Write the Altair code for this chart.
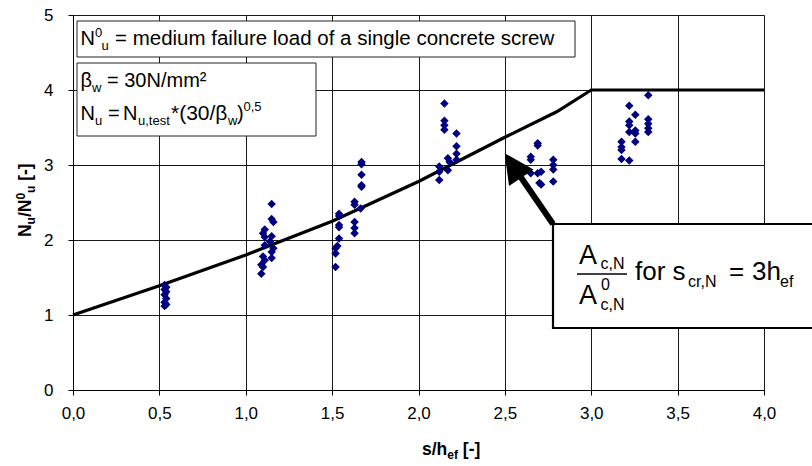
import altair as alt
import pandas as pd

# ---------------- data ----------------
line_x = [0.0, 0.5, 1.0, 1.5, 2.0, 2.5, 2.8, 3.0, 4.0]
line_y = [1.0, 1.39, 1.80, 2.25, 2.78, 3.37, 3.71, 4.0, 4.0]

test_x = [
    0.53, 0.54, 0.53, 0.54, 0.53, 0.54, 0.53, 0.54, 0.53,
    1.09, 1.10, 1.09, 1.11, 1.10, 1.11, 1.11, 1.10, 1.11,
    1.15, 1.15, 1.16, 1.14, 1.15, 1.16, 1.15, 1.15,
    1.52, 1.52, 1.52, 1.53, 1.54, 1.54, 1.54, 1.54, 1.54,
    1.63, 1.63, 1.63, 1.63, 1.63, 1.665, 1.67, 1.67, 1.67, 1.67, 1.67,
    2.15, 2.15, 2.15, 2.15, 2.17, 2.17, 2.12, 2.12, 2.12, 2.18, 2.22, 2.22, 2.22, 2.22,
    2.69, 2.69, 2.65, 2.65, 2.65, 2.69, 2.71, 2.70, 2.71, 2.78, 2.78, 2.78, 2.78,
    3.33, 3.22, 3.255, 3.22, 3.22, 3.22, 3.255, 3.255, 3.255, 3.33, 3.33, 3.33, 3.33,
    3.175, 3.175, 3.175, 3.175, 3.22,
]
test_y = [
    1.40, 1.37, 1.34, 1.31, 1.27, 1.22, 1.17, 1.14, 1.12,
    1.55, 1.64, 1.67, 1.73, 1.78, 1.93, 2.04, 2.09, 2.14,
    1.76, 1.84, 1.89, 1.98, 2.05, 2.24, 2.28, 2.48,
    1.64, 1.82, 1.89, 1.92, 2.02, 2.17, 2.20, 2.32, 2.35,
    2.09, 2.16, 2.24, 2.47, 2.51, 2.42, 2.71, 2.73, 2.87, 3.01, 3.04,
    3.82, 3.59, 3.53, 3.47, 3.09, 2.93, 2.98, 2.91, 2.80, 3.04, 3.42, 3.25, 3.15, 3.07,
    3.29, 3.26, 3.11, 3.07, 2.89, 2.89, 2.91, 2.76, 2.74, 3.07, 3.00, 2.94, 2.78,
    3.93, 3.79, 3.67, 3.58, 3.53, 3.44, 3.46, 3.42, 3.31, 3.61, 3.55, 3.49, 3.44,
    3.31, 3.24, 3.20, 3.08, 3.06,
]

x_ticks = [0.0, 0.5, 1.0, 1.5, 2.0, 2.5, 3.0, 3.5, 4.0]
y_ticks = [0, 1, 2, 3, 4, 5]

# ---------------- layout helpers ----------------
W, H = 691, 375
OX, OY = 73, 15
FONT = "Liberation Sans"
one = pd.DataFrame({"a": [0]})

line_df = pd.DataFrame({"x": line_x, "y": line_y})
pts_df = pd.DataFrame({"x": test_x, "y": test_y})

xs = alt.Scale(domain=[0, 4], nice=False, zero=False)
ys = alt.Scale(domain=[0, 5], nice=False, zero=False)

x_axis = alt.Axis(
    values=x_ticks, title=None,
    labelExpr="replace(format(datum.value, '.1f'), '.', ',')",
    labelPadding=10,
)
y_axis = alt.Axis(values=y_ticks, title=None, format="d", labelPadding=15)

base_line = alt.Chart(line_df).mark_line(color="#000000", strokeWidth=3.2).encode(
    x=alt.X("x:Q", scale=xs, axis=x_axis),
    y=alt.Y("y:Q", scale=ys, axis=y_axis),
)
points = alt.Chart(pts_df).mark_point(
    shape="diamond", filled=True, size=72, color="#000080", opacity=1
).encode(x=alt.X("x:Q", scale=xs, axis=x_axis), y=alt.Y("y:Q", scale=ys, axis=y_axis))


def txt(s, x, y, size, bold=False, align="left", angle=0):
    kw = dict(text=s, align=align, baseline="alphabetic", fontSize=size,
              font=FONT, color="#000000")
    if bold:
        kw["fontWeight"] = "bold"
    if angle:
        kw["angle"] = angle
    return alt.Chart(one).mark_text(**kw).encode(
        x=alt.value(x - OX), y=alt.value(y - OY))


def box(x1, y1, x2, y2, sw=1, col="#222222"):
    return alt.Chart(one).mark_rect(fill="white", stroke=col, strokeWidth=sw).encode(
        x=alt.value(x1 - OX), x2=alt.value(x2 - OX),
        y=alt.value(y1 - OY), y2=alt.value(y2 - OY))


def seg(x1, y1, x2, y2, sw):
    return alt.Chart(one).mark_rule(color="#000000", strokeWidth=sw).encode(
        x=alt.value(x1 - OX), x2=alt.value(x2 - OX),
        y=alt.value(y1 - OY), y2=alt.value(y2 - OY))


layers = [base_line, points]

# box 1
layers += [
    box(77, 21, 575, 57),
    txt("N", 80.5, 45, 20),
    txt("0", 95, 37, 13),
    txt("u", 101.5, 50, 13),
    txt("= medium failure load of a single concrete screw", 115, 45, 20.5),
]
# box 2
layers += [
    box(77, 63, 316, 136),
    txt("β", 80.5, 87, 20),
    txt("w", 92, 92, 13),
    txt("= 30N/mm²", 107, 87, 20),
    txt("N", 80.5, 120, 20),
    txt("u", 95, 125, 13),
    txt("=", 108, 120, 20),
    txt("N", 123, 120, 20),
    txt("u,test", 138, 125, 13),
    txt("*(30/β", 171, 120, 21),
    txt("w", 228, 125, 13),
    txt(")", 237, 120, 20),
    txt("0,5", 243.5, 111, 13),
]
# arrow
layers += [
    seg(553, 224, 520, 176, 6),
    alt.Chart(one).mark_point(
        shape="M0,-1L1,1L-1,1Z", filled=True, size=870, angle=326,
        color="#000000", opacity=1,
    ).encode(x=alt.value(513 - OX), y=alt.value(165.5 - OY)),
]
# box 3
layers += [
    box(553, 224, 830, 328, sw=2.2, col="#000000"),
    txt("A", 579, 263.5, 27),
    txt("c,N", 600.5, 268.5, 16),
    seg(577, 274, 627, 274, 1.5),
    txt("A", 579, 303.5, 27),
    txt("0", 601, 290, 16),
    txt("c,N", 600.5, 309.5, 16),
    txt("for s", 635, 280, 26),
    txt("cr,N", 688, 287, 16),
    txt("=", 729, 280, 26),
    txt("3h", 752, 280, 26),
    txt("ef", 780, 287, 16),
]
# x axis title
xt = 422
layers += [
    txt("s/h", xt, 455, 17.5, bold=True),
    txt("ef", xt + 25.3, 459, 12, bold=True),
    txt("[-]", xt + 25.3 + 10.7 + 4.8, 455, 17.5, bold=True),
]
# y axis title (rotated)
yb = 237
layers += [
    txt("N", 31, yb, 17.5, bold=True, angle=270),
    txt("u", 35, yb - 12.6, 12, bold=True, angle=270),
    txt("/N", 31, yb - 19.9, 17.5, bold=True, angle=270),
    txt("0", 25, yb - 37.4, 12, bold=True, angle=270),
    txt("u", 35, yb - 44.1, 12, bold=True, angle=270),
    txt("[-]", 31, yb - 56.2, 17.5, bold=True, angle=270),
]

chart = alt.layer(*layers).properties(
    width=W, height=H,
    padding={"left": OX, "top": OY, "right": 812 - OX - W, "bottom": 466 - OY - H},
    autosize=alt.AutoSizeParams(type="none"),
    background="white",
).configure_view(stroke=None).configure_axis(
    grid=True, gridColor="#000000", gridWidth=1, gridOpacity=0.9,
    labelFont=FONT, labelFontSize=17, labelColor="#000000",
    tickSize=5, tickColor="#000000", domainColor="#000000", labelFlush=False,
)

chart.save("out.html", embed_options={"renderer": "svg", "actions": False})
